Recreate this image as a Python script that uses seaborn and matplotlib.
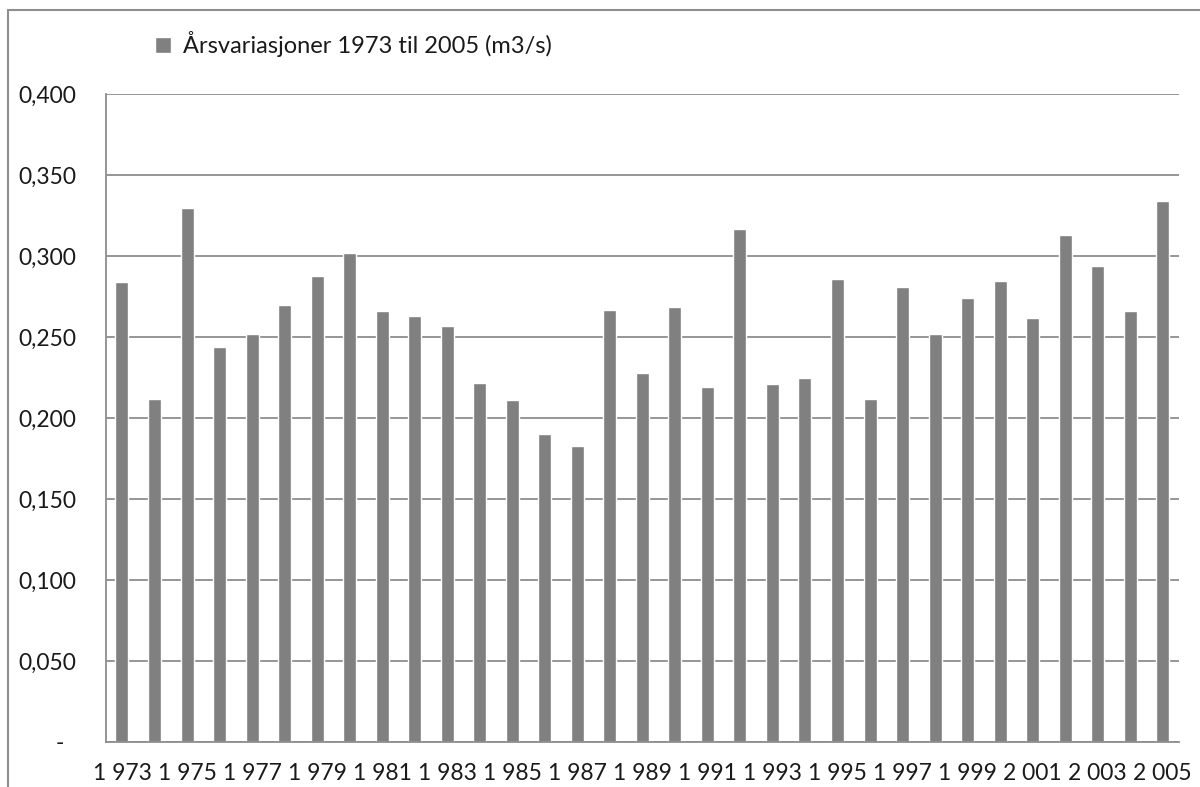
import matplotlib
matplotlib.use("Agg")
import matplotlib.pyplot as plt
from matplotlib.lines import Line2D
from matplotlib.ticker import FixedLocator
import seaborn as sns
import pandas as pd

# Annual variation of discharge, 1973-2005 (m3/s)
years = list(range(1973, 2006))
values = [0.284, 0.212, 0.330, 0.244, 0.252, 0.270, 0.288, 0.302, 0.266, 0.263,
          0.257, 0.222, 0.211, 0.190, 0.183, 0.267, 0.228, 0.269, 0.219, 0.317,
          0.221, 0.225, 0.286, 0.212, 0.281, 0.252, 0.274, 0.285, 0.262, 0.313,
          0.294, 0.266, 0.334]
x_labels = ["1 973", "", "1 975", "", "1 977", "", "1 979", "", "1 981", "",
            "1 983", "", "1 985", "", "1 987", "", "1 989", "", "1 991", "",
            "1 993", "", "1 995", "", "1 997", "", "1 999", "", "2 001", "",
            "2 003", "", "2 005"]
y_ticks = [0.0, 0.05, 0.10, 0.15, 0.20, 0.25, 0.30, 0.35, 0.40]
y_labels = ["-  ", "0,050", "0,100", "0,150", "0,200", "0,250", "0,300", "0,350", "0,400"]
series_name = "Årsvariasjoner 1973 til 2005 (m3/s)"

sns.set_theme(style="white")
plt.rcParams["font.family"] = ["Lato", "DejaVu Sans"]

BAR = "#808080"
GRID = "#8e8e8e"
TEXT = "#1a1a1a"

df = pd.DataFrame({"year": years, "value": values})

fig = plt.figure(figsize=(12, 7.87), dpi=100)
ax = fig.add_axes([0.0881, 0.0572, 0.8944, 0.8228])

sns.barplot(data=df, x="year", y="value", color=BAR, width=0.4,
            saturation=1, label=series_name, ax=ax)

ax.set_ylim(0, 0.4)
ax.set_xlim(-0.5, len(years) - 0.5)
ax.yaxis.set_major_locator(FixedLocator(y_ticks))
ax.set_yticklabels(y_labels)
ax.set_xticks(range(len(years)))
ax.set_xticklabels(x_labels)
ax.set_xlabel("")
ax.set_ylabel("")

ax.grid(axis="y", color=GRID, linewidth=1.3)
ax.set_axisbelow(True)
for side in ("top", "right"):
    ax.spines[side].set_visible(False)
for side in ("left", "bottom"):
    ax.spines[side].set_color(GRID)
    ax.spines[side].set_linewidth(1.3)

ax.tick_params(axis="y", length=0, pad=21, labelsize=16.5, labelcolor=TEXT)
ax.tick_params(axis="x", length=0, pad=15, labelsize=16.5, labelcolor=TEXT)

leg = ax.legend(loc="upper left", bbox_to_anchor=(0.121, 0.972),
                bbox_transform=fig.transFigure, frameon=False,
                fontsize=17, handlelength=0.7, handleheight=0.7,
                handletextpad=0.5, borderaxespad=0)
for t in leg.get_texts():
    t.set_color(TEXT)

# Chart-area frame (top and left edges)
fig.add_artist(Line2D([8 / 1200, 1.0], [1 - 10 / 787, 1 - 10 / 787],
                      transform=fig.transFigure, color=GRID, linewidth=1.5))
fig.add_artist(Line2D([8 / 1200, 8 / 1200], [0.0, 1 - 10 / 787],
                      transform=fig.transFigure, color=GRID, linewidth=1.5))

fig.savefig("out.png", dpi=100, facecolor="white")
